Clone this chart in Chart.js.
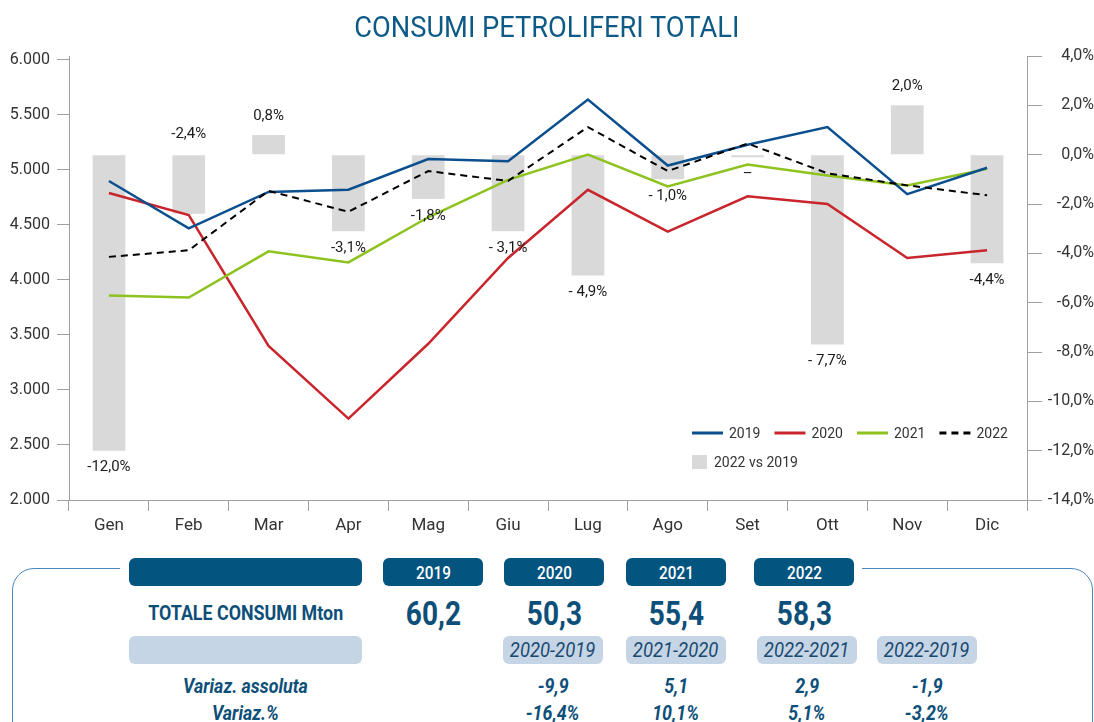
<!DOCTYPE html>
<html>
<head>
<meta charset="utf-8">
<script src="https://cdn.jsdelivr.net/npm/chart.js@4.4.1/dist/chart.umd.min.js"></script>
<style>
  html, body { margin: 0; padding: 0; background: #fff; }
  #page { position: relative; width: 1094px; height: 722px; overflow: hidden; font-family: Roboto, sans-serif; }
  #chart { position: absolute; left: 0; top: 0; }
  .abs { position: absolute; display: flex; align-items: center; justify-content: center; }
  .abs span { display: inline-block; transform: scaleX(0.85); white-space: nowrap; }
  #title { left: 0; width: 1094px; top: 7px; height: 40px; color: #0e5a86; font-size: 29px; }
  #title span { transform: scaleX(0.94); }
  #frame { position: absolute; left: 12px; top: 568px; width: 1079px; height: 200px; border: 1.5px solid #4c86c1; border-radius: 22px; }
  #cover { position: absolute; left: 120px; top: 562px; width: 742px; height: 14px; background: #fff; }
  .head { background: #03547f; color: #fff; border-radius: 6px; font-size: 18px; font-weight: 500; }
  .sub { background: #c5d5e6; color: #1b4a70; border-radius: 6px; font-size: 21px; font-style: italic; }
  .sub span { transform: scaleX(0.88); }
  .val { color: #0d4f78; font-weight: 700; }
</style>
</head>
<body>
<div id="page">
  <canvas id="chart" width="1094" height="545"></canvas>
  <div id="title" class="abs"><span>CONSUMI PETROLIFERI TOTALI</span></div>
  <div id="frame"></div>
  <div id="cover"></div>
  <div id="table"></div>
</div>
<script>
// dati mensili (migliaia di tonnellate)
var months = ['Gen', 'Feb', 'Mar', 'Apr', 'Mag', 'Giu', 'Lug', 'Ago', 'Set', 'Ott', 'Nov', 'Dic'];
var c2019 = [4900, 4470, 4800, 4820, 5100, 5080, 5640, 5040, 5230, 5390, 4780, 5020];
var c2020 = [4790, 4590, 3400, 2740, 3420, 4200, 4820, 4440, 4760, 4690, 4200, 4270];
var c2021 = [3860, 3840, 4260, 4160, 4570, 4910, 5140, 4850, 5050, 4950, 4860, 5010];
var c2022 = [4210, 4270, 4810, 4620, 4990, 4900, 5390, 4990, 5240, 4970, 4860, 4770];

// 2022 vs 2019 (%)
var diffPct = [-12.0, -2.4, 0.8, -3.1, -1.8, -3.1, -4.9, -1.0, -0.1, -7.7, 2.0, -4.4];
var diffLabels = ['-12,0%', '-2,4%', '0,8%', '-3,1%', '-1,8%', '- 3,1%', '- 4,9%', '- 1,0%', '–', '- 7,7%', '2,0%', '-4,4%'];
var labelsAboveZero = ['Feb'];

var leftTicks = [2000, 2500, 3000, 3500, 4000, 4500, 5000, 5500, 6000];

// tabella riepilogo
var years = ['2019', '2020', '2021', '2022'];
var totals = ['60,2', '50,3', '55,4', '58,3'];
var periods = ['2020-2019', '2021-2020', '2022-2021', '2022-2019'];
var varAbs = ['-9,9', '5,1', '2,9', '-1,9'];
var varPct = ['-16,4%', '10,1%', '5,1%', '-3,2%'];

function fmtThousands(v) {
    return Math.floor(v / 1000) + '.' + String(v % 1000).padStart(3, '0');
}

var axisColor = '#a0a0a0';
var tickFont = { family: 'Roboto', size: 16 };

var barLabels = {
    id: 'barLabels',
    afterDatasetsDraw(chart) {
        var meta = chart.getDatasetMeta(4);
        var ctx = chart.ctx;
        var zero = chart.scales.y1.getPixelForValue(0);
        ctx.save();
        ctx.font = '15px Roboto';
        ctx.fillStyle = '#1a1a1a';
        ctx.textAlign = 'center';
        ctx.textBaseline = 'middle';
        meta.data.forEach((bar, i) => {
            var y;
            if (labelsAboveZero.includes(months[i])) y = zero - 20;
            else if (diffPct[i] >= 0) y = bar.y - 19;
            else y = bar.y + 17;
            ctx.fillText(diffLabels[i], bar.x, y);
        });
        ctx.restore();
    }
};

var innerLegend = {
    id: 'innerLegend',
    afterDraw(chart) {
        var ctx = chart.ctx;
        var area = chart.chartArea;
        var x = area.left + 623;
        var y = area.bottom - 67;
        ctx.save();
        ctx.font = '14px Roboto';
        ctx.fillStyle = '#333';
        ctx.textBaseline = 'middle';
        chart.data.datasets.slice(0, 4).forEach(ds => {
            ctx.beginPath();
            ctx.strokeStyle = ds.borderColor;
            ctx.lineWidth = 3;
            ctx.setLineDash(ds.borderDash || []);
            ctx.moveTo(x, y);
            ctx.lineTo(x + 31, y);
            ctx.stroke();
            ctx.setLineDash([]);
            ctx.fillText(ds.label, x + 37, y + 1);
            x += 37 + ctx.measureText(ds.label).width + 14;
        });
        var bars = chart.data.datasets[4];
        var bx = area.left + 623;
        var by = area.bottom - 38;
        ctx.fillStyle = bars.backgroundColor;
        ctx.fillRect(bx, by - 7, 15, 14);
        ctx.fillStyle = '#333';
        ctx.fillText(bars.label, bx + 22, by + 1);
        ctx.restore();
    }
};

new Chart(document.getElementById('chart'), {
    type: 'bar',
    data: {
        labels: months,
        datasets: [
            { type: 'line', label: '2019', data: c2019, borderColor: '#0b4f8f', borderWidth: 2.5, pointRadius: 0, yAxisID: 'y', order: 1 },
            { type: 'line', label: '2020', data: c2020, borderColor: '#c9252c', borderWidth: 2.5, pointRadius: 0, yAxisID: 'y', order: 3 },
            { type: 'line', label: '2021', data: c2021, borderColor: '#8dc21f', borderWidth: 2.5, pointRadius: 0, yAxisID: 'y', order: 2 },
            { type: 'line', label: '2022', data: c2022, borderColor: '#000000', borderWidth: 2, borderDash: [7, 5], pointRadius: 0, yAxisID: 'y', order: 0 },
            { type: 'bar', label: '2022 vs 2019', data: diffPct, backgroundColor: '#d9d9d9', yAxisID: 'y1', order: 10,
              barPercentage: 0.41, categoryPercentage: 1 }
        ]
    },
    options: {
        responsive: false,
        animation: false,
        devicePixelRatio: 1,
        layout: { padding: { top: 56 } },
        plugins: { legend: { display: false }, tooltip: { enabled: false } },
        scales: {
            x: {
                grid: { display: true, drawOnChartArea: false, offset: true, color: axisColor, tickLength: 11 },
                border: { color: axisColor },
                ticks: { color: '#333', font: { family: 'Roboto', size: 17 }, padding: 5 },
                afterFit: s => { s.height = 45; }
            },
            y: {
                position: 'left',
                min: 2000,
                max: 6036,
                grid: { drawOnChartArea: false, color: axisColor, tickLength: 12 },
                border: { color: axisColor },
                ticks: { color: '#333', font: tickFont, padding: 7, callback: v => fmtThousands(v) },
                afterBuildTicks: s => { s.ticks = leftTicks.map(v => ({ value: v })); },
                afterFit: s => { s.width = 69; }
            },
            y1: {
                position: 'right',
                min: -14,
                max: 4,
                grid: { drawOnChartArea: false, color: axisColor, tickLength: 15 },
                border: { color: axisColor },
                ticks: { stepSize: 2, color: '#333', font: tickFont, padding: 6, crossAlign: 'far',
                         callback: v => v.toFixed(1).replace('.', ',') + '%' },
                afterFit: s => { s.width = 67; }
            }
        }
    },
    plugins: [barLabels, innerLegend]
});

// tabella sotto il grafico
var table = document.getElementById('table');
function box(x, y, w, h, cls, text, css) {
    var d = document.createElement('div');
    d.className = 'abs ' + cls;
    d.style.left = x + 'px';
    d.style.top = y + 'px';
    d.style.width = w + 'px';
    d.style.height = h + 'px';
    if (css) d.style.cssText += css;
    d.innerHTML = '<span>' + text + '</span>';
    table.appendChild(d);
}

var yearX = [383, 504, 626, 754];
var subX = [503, 626, 757, 877];

box(129, 558, 233, 28, 'head', '');
box(129, 636, 233, 28, 'sub', '');
box(129, 598, 233, 30, 'val', 'TOTALE CONSUMI Mton', 'font-size:21px;');
box(129, 673, 233, 26, 'val', 'Variaz. assoluta', 'font-size:21px;font-style:italic;');
box(129, 700, 233, 26, 'val', 'Variaz.%', 'font-size:21px;font-style:italic;');

years.forEach((y, i) => {
    box(yearX[i], 558, 100, 28, 'head', y);
    box(yearX[i], 593, 100, 40, 'val', totals[i], 'font-size:33px;');
});
periods.forEach((p, i) => {
    box(subX[i], 636, 100, 28, 'sub', p);
    box(subX[i], 673, 100, 26, 'val', varAbs[i], 'font-size:21px;font-style:italic;');
    box(subX[i], 700, 100, 26, 'val', varPct[i], 'font-size:21px;font-style:italic;');
});
</script>
</body>
</html>
